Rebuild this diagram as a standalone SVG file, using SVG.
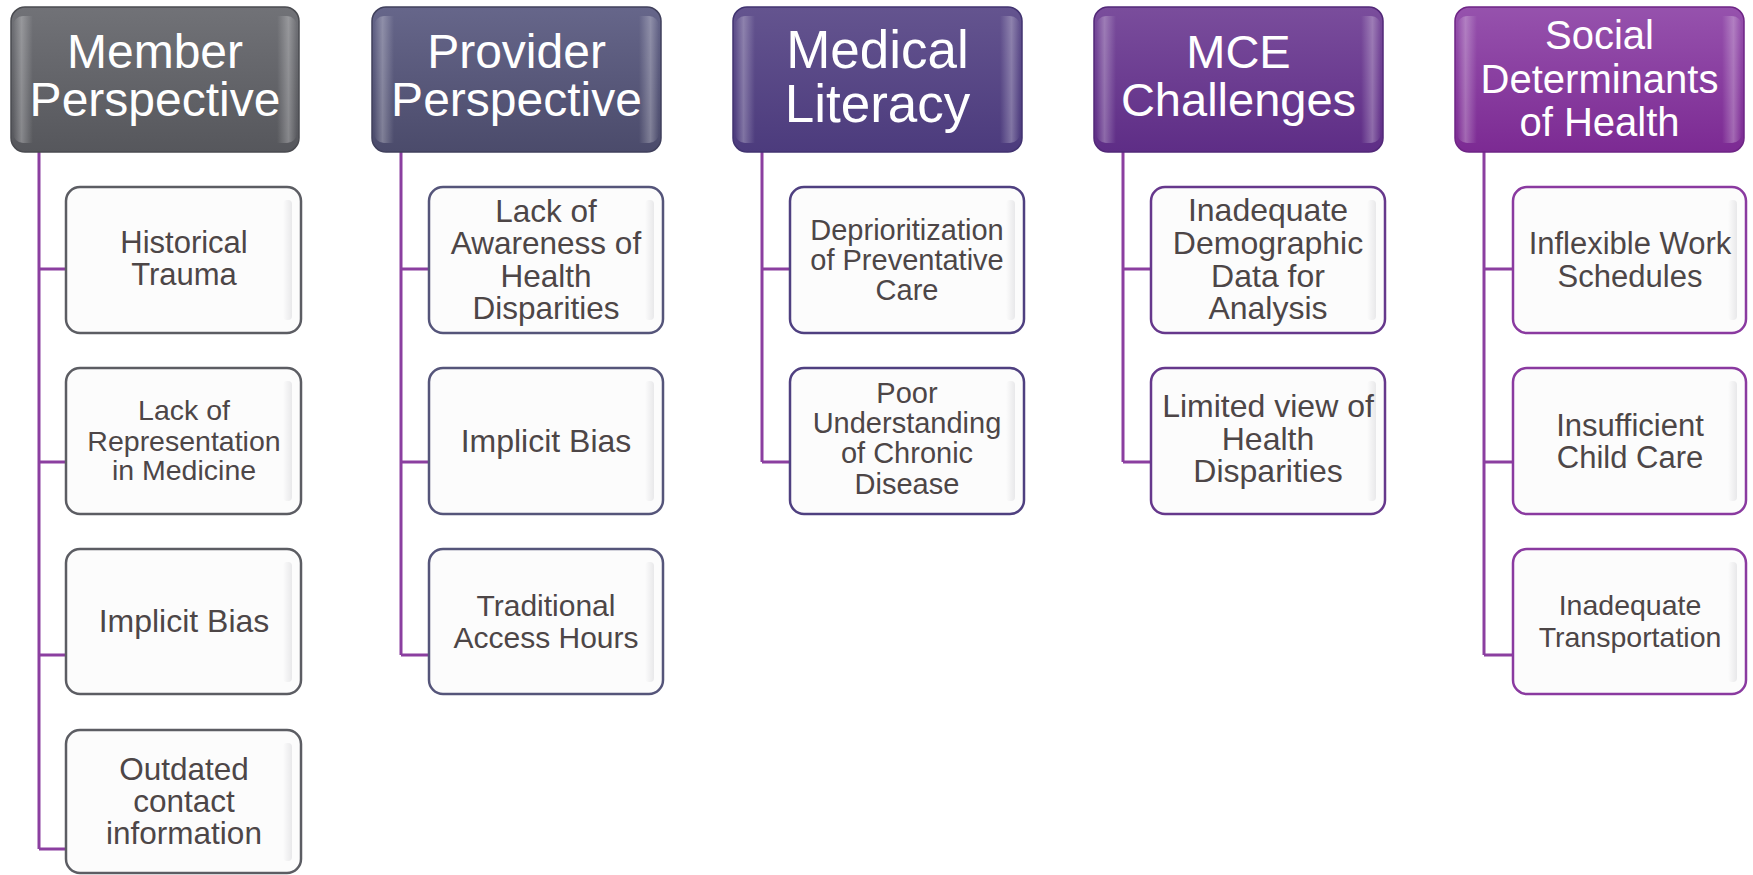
<svg xmlns="http://www.w3.org/2000/svg" width="1753" height="875" viewBox="0 0 1753 875">
<style>
  .hdr text { font-family: "Liberation Sans", Arial, sans-serif; fill: #ffffff; text-anchor: middle; }
  .child text { font-family: "Liberation Sans", Arial, sans-serif; fill: #4d4647; text-anchor: middle; }
  .child rect.box { fill: #fcfcfc; stroke-width: 2.5; }
  .child rect.sh { fill: url(#cs); }
  .conn path { fill: none; stroke: #8b3fa0; stroke-width: 3; }
</style>
<defs>
  <linearGradient id="g1" x1="0" y1="0" x2="0" y2="1"><stop offset="0" stop-color="#717277"/><stop offset="1" stop-color="#56575c"/></linearGradient>
  <linearGradient id="g2" x1="0" y1="0" x2="0" y2="1"><stop offset="0" stop-color="#66668a"/><stop offset="1" stop-color="#4b4b6b"/></linearGradient>
  <linearGradient id="g3" x1="0" y1="0" x2="0" y2="1"><stop offset="0" stop-color="#64548f"/><stop offset="1" stop-color="#4c3b7d"/></linearGradient>
  <linearGradient id="g4" x1="0" y1="0" x2="0" y2="1"><stop offset="0" stop-color="#7a4d9c"/><stop offset="1" stop-color="#5e2d86"/></linearGradient>
  <linearGradient id="g5" x1="0" y1="0" x2="0" y2="1"><stop offset="0" stop-color="#9652ad"/><stop offset="1" stop-color="#7c2a93"/></linearGradient>
  <linearGradient id="bev" x1="0" y1="0" x2="1" y2="0">
    <stop offset="0" stop-color="#ffffff" stop-opacity="0"/>
    <stop offset="0.03" stop-color="#ffffff" stop-opacity="0.28"/>
    <stop offset="0.07" stop-color="#ffffff" stop-opacity="0"/>
    <stop offset="0.93" stop-color="#ffffff" stop-opacity="0"/>
    <stop offset="0.97" stop-color="#ffffff" stop-opacity="0.28"/>
    <stop offset="1" stop-color="#ffffff" stop-opacity="0"/>
  </linearGradient>
  <linearGradient id="cs" x1="0" y1="0" x2="1" y2="0">
    <stop offset="0" stop-color="#e6e6e8" stop-opacity="0"/>
    <stop offset="1" stop-color="#e6e6e8" stop-opacity="0.9"/>
  </linearGradient>
</defs>

<g class="conn" id="connectors">
  <path d="M39 152 V849 M39 269 H66 M39 462 H66 M39 655 H66 M39 849 H66"/>
  <path d="M401 152 V655 M401 269 H429 M401 462 H429 M401 655 H429"/>
  <path d="M762 152 V462 M762 269 H790 M762 462 H790"/>
  <path d="M1123 152 V462 M1123 269 H1151 M1123 462 H1151"/>
  <path d="M1484 152 V655 M1484 269 H1513 M1484 462 H1513 M1484 655 H1513"/>
</g>

<!-- Headers -->
<g class="hdr" id="h-member">
  <rect x="11" y="7" width="288" height="145" rx="14" fill="url(#g1)" stroke="#4a4b50" stroke-width="1.5"/>
  <rect x="13" y="16" width="284" height="127" rx="10" fill="url(#bev)"/>
  <text font-size="48"><tspan x="155" y="68">Member</tspan><tspan x="155" y="116">Perspective</tspan></text>
</g>
<g class="hdr" id="h-provider">
  <rect x="372" y="7" width="289" height="145" rx="14" fill="url(#g2)" stroke="#40405c" stroke-width="1.5"/>
  <rect x="374" y="16" width="285" height="127" rx="10" fill="url(#bev)"/>
  <text font-size="48"><tspan x="516.5" y="68">Provider</tspan><tspan x="516.5" y="116">Perspective</tspan></text>
</g>
<g class="hdr" id="h-medical">
  <rect x="733" y="7" width="289" height="145" rx="14" fill="url(#g3)" stroke="#413370" stroke-width="1.5"/>
  <rect x="735" y="16" width="285" height="127" rx="10" fill="url(#bev)"/>
  <text font-size="53"><tspan x="877.5" y="68">Medical</tspan><tspan x="877.5" y="122">Literacy</tspan></text>
</g>
<g class="hdr" id="h-mce">
  <rect x="1094" y="7" width="289" height="145" rx="14" fill="url(#g4)" stroke="#522878" stroke-width="1.5"/>
  <rect x="1096" y="16" width="285" height="127" rx="10" fill="url(#bev)"/>
  <text font-size="47"><tspan x="1238.5" y="68">MCE</tspan><tspan x="1238.5" y="116">Challenges</tspan></text>
</g>
<g class="hdr" id="h-social">
  <rect x="1455" y="7" width="289" height="145" rx="14" fill="url(#g5)" stroke="#6e2585" stroke-width="1.5"/>
  <rect x="1457" y="16" width="285" height="127" rx="10" fill="url(#bev)"/>
  <text font-size="40"><tspan x="1599.5" y="49">Social</tspan><tspan x="1599.5" y="93">Determinants</tspan><tspan x="1599.5" y="136">of Health</tspan></text>
</g>

<!-- Member children -->
<g class="child" id="m1">
  <rect class="box" x="66" y="187" width="235" height="146" rx="14" stroke="#5c5d63"/>
  <rect class="sh" x="283" y="200" width="9" height="120" rx="4"/>
  <text font-size="31"><tspan x="184" y="253">Historical</tspan><tspan x="184" y="285">Trauma</tspan></text>
</g>
<g class="child" id="m2">
  <rect class="box" x="66" y="368" width="235" height="146" rx="14" stroke="#5c5d63"/>
  <rect class="sh" x="283" y="381" width="9" height="120" rx="4"/>
  <text font-size="28.5"><tspan x="184" y="420">Lack of</tspan><tspan x="184" y="451">Representation</tspan><tspan x="184" y="480">in Medicine</tspan></text>
</g>
<g class="child" id="m3">
  <rect class="box" x="66" y="549" width="235" height="145" rx="14" stroke="#5c5d63"/>
  <rect class="sh" x="283" y="562" width="9" height="120" rx="4"/>
  <text font-size="32"><tspan x="184" y="632">Implicit Bias</tspan></text>
</g>
<g class="child" id="m4">
  <rect class="box" x="66" y="730" width="235" height="143" rx="14" stroke="#5c5d63"/>
  <rect class="sh" x="283" y="743" width="9" height="118" rx="4"/>
  <text font-size="31.5"><tspan x="184" y="780">Outdated</tspan><tspan x="184" y="812">contact</tspan><tspan x="184" y="844">information</tspan></text>
</g>

<!-- Provider children -->
<g class="child" id="p1">
  <rect class="box" x="429" y="187" width="234" height="146" rx="14" stroke="#55557a"/>
  <rect class="sh" x="645" y="200" width="9" height="120" rx="4"/>
  <text font-size="31.5"><tspan x="546" y="222">Lack of</tspan><tspan x="546" y="254">Awareness of</tspan><tspan x="546" y="287">Health</tspan><tspan x="546" y="319">Disparities</tspan></text>
</g>
<g class="child" id="p2">
  <rect class="box" x="429" y="368" width="234" height="146" rx="14" stroke="#55557a"/>
  <rect class="sh" x="645" y="381" width="9" height="120" rx="4"/>
  <text font-size="32"><tspan x="546" y="452">Implicit Bias</tspan></text>
</g>
<g class="child" id="p3">
  <rect class="box" x="429" y="549" width="234" height="145" rx="14" stroke="#55557a"/>
  <rect class="sh" x="645" y="562" width="9" height="120" rx="4"/>
  <text font-size="30"><tspan x="546" y="616">Traditional</tspan><tspan x="546" y="648">Access Hours</tspan></text>
</g>

<!-- Medical children -->
<g class="child" id="d1">
  <rect class="box" x="790" y="187" width="234" height="146" rx="14" stroke="#4f4080"/>
  <rect class="sh" x="1006" y="200" width="9" height="120" rx="4"/>
  <text font-size="29"><tspan x="907" y="240">Deprioritization</tspan><tspan x="907" y="270">of Preventative</tspan><tspan x="907" y="300">Care</tspan></text>
</g>
<g class="child" id="d2">
  <rect class="box" x="790" y="368" width="234" height="146" rx="14" stroke="#4f4080"/>
  <rect class="sh" x="1006" y="381" width="9" height="120" rx="4"/>
  <text font-size="29"><tspan x="907" y="403">Poor</tspan><tspan x="907" y="433">Understanding</tspan><tspan x="907" y="463">of Chronic</tspan><tspan x="907" y="494">Disease</tspan></text>
</g>

<!-- MCE children -->
<g class="child" id="c1">
  <rect class="box" x="1151" y="187" width="234" height="146" rx="14" stroke="#66388c"/>
  <rect class="sh" x="1367" y="200" width="9" height="120" rx="4"/>
  <text font-size="32"><tspan x="1268" y="221">Inadequate</tspan><tspan x="1268" y="254">Demographic</tspan><tspan x="1268" y="287">Data for</tspan><tspan x="1268" y="319">Analysis</tspan></text>
</g>
<g class="child" id="c2">
  <rect class="box" x="1151" y="368" width="234" height="146" rx="14" stroke="#66388c"/>
  <rect class="sh" x="1367" y="381" width="9" height="120" rx="4"/>
  <text font-size="32"><tspan x="1268" y="417">Limited view of</tspan><tspan x="1268" y="450">Health</tspan><tspan x="1268" y="482">Disparities</tspan></text>
</g>

<!-- Social children -->
<g class="child" id="s1">
  <rect class="box" x="1513" y="187" width="233" height="146" rx="14" stroke="#8a3aa0"/>
  <rect class="sh" x="1728" y="200" width="9" height="120" rx="4"/>
  <text font-size="31"><tspan x="1630" y="254">Inflexible Work</tspan><tspan x="1630" y="287">Schedules</tspan></text>
</g>
<g class="child" id="s2">
  <rect class="box" x="1513" y="368" width="233" height="146" rx="14" stroke="#8a3aa0"/>
  <rect class="sh" x="1728" y="381" width="9" height="120" rx="4"/>
  <text font-size="31"><tspan x="1630" y="436">Insufficient</tspan><tspan x="1630" y="468">Child Care</tspan></text>
</g>
<g class="child" id="s3">
  <rect class="box" x="1513" y="549" width="233" height="145" rx="14" stroke="#8a3aa0"/>
  <rect class="sh" x="1728" y="562" width="9" height="120" rx="4"/>
  <text font-size="28.5"><tspan x="1630" y="615">Inadequate</tspan><tspan x="1630" y="647">Transportation</tspan></text>
</g>
</svg>
